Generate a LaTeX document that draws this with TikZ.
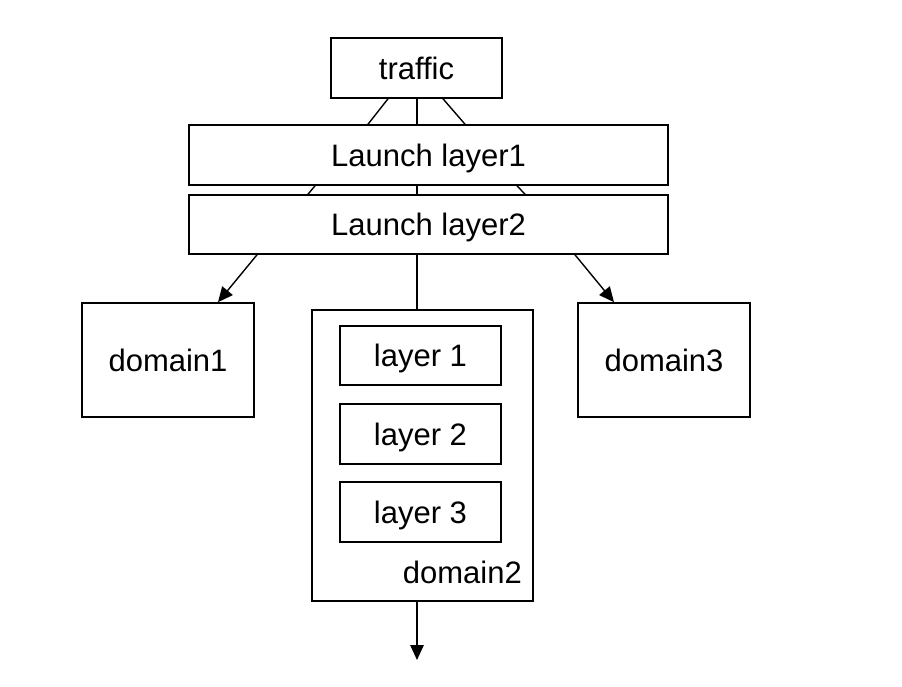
\documentclass[tikz,border=0pt]{standalone}
\usepackage{fontspec}
\setmainfont{Liberation Sans}
\usetikzlibrary{arrows.meta,calc}
\tikzset{
  lbl/.style={font=\fontsize{31}{34}\selectfont},
  box/.style={lbl,draw,line width=1.6pt,inner sep=0pt,text height=22pt,text depth=0pt},
  conn/.style={line width=1.4pt},
  arr/.style={conn,-{Triangle[length=15pt,width=13.5pt]}}
}
\begin{document}
\begin{tikzpicture}[x=1pt,y=-1pt]
\useasboundingbox (0,0) rectangle (902,686);
\node[box,minimum width=171pt,minimum height=60pt] (traffic) at (416.5,68) {traffic};
\node[box,minimum width=479pt,minimum height=60pt] (l1) at (428.5,155) {Launch layer1};
\node[box,minimum width=479pt,minimum height=59pt] (l2) at (428.5,224.5) {Launch layer2};
\node[box,minimum width=172pt,minimum height=114pt] (d1) at (168,360) {domain1};
\node[box,minimum width=221pt,minimum height=291pt] (d2) at (422.5,455.5) {};
\node[box,minimum width=172pt,minimum height=114pt] (d3) at (664,360) {domain3};
\node[box,minimum width=161pt,minimum height=59pt] (s1) at (420.5,355.5) {layer 1};
\node[box,minimum width=161pt,minimum height=60pt] (s2) at (420.5,434) {layer 2};
\node[box,minimum width=161pt,minimum height=60pt] (s3) at (420.5,512) {layer 3};
\node[lbl,anchor=base east,inner sep=0pt] (d2lab) at (522,583) {domain2};
% traffic -> layer1
\draw[conn] ($(traffic.south)+(-28.5,0)$) -- ($(l1.north)+(-60.5,0)$);
\draw[conn] ($(traffic.south)+(0.5,0)$) -- ($(l1.north)+(-11.5,0)$);
\draw[conn] ($(traffic.south)+(26.5,0)$) -- ($(l1.north)+(36.5,0)$);
% layer1 -> layer2
\draw[conn] ($(l1.south)+(-113.5,0)$) -- ($(l2.north)+(-120.5,0)$);
\draw[conn] ($(l1.south)+(-11.5,0)$) -- ($(l2.north)+(-11.5,0)$);
\draw[conn] ($(l1.south)+(88.5,0)$) -- ($(l2.north)+(96.5,0)$);
% layer2 -> domains
\draw[arr] ($(l2.south)+(-171.5,0)$) -- ($(d1.north)+(50,0)$);
\draw[conn] ($(l2.south)+(-11.5,0)$) -- ($(d2.north)+(-5.5,0)$);
\draw[arr] ($(l2.south)+(146.5,0)$) -- ($(d3.north)+(-50,0)$);
% bottom
\coordinate (out) at (417,660);
\draw[arr] ($(d2.south)+(-5.5,0)$) -- (out);
\end{tikzpicture}
\end{document}
